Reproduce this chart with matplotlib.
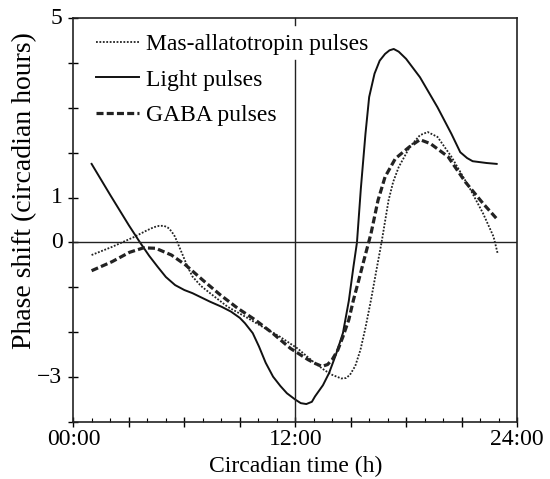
import matplotlib
matplotlib.use('Agg')
import matplotlib.pyplot as plt
from matplotlib.ticker import MultipleLocator

# --- data (hours, phase shift in circadian hours) ---
light_t = [0.98, 2.0, 3.0, 3.6, 4.1, 4.55, 5.0, 5.5, 6.0, 6.44, 7.39, 8.0, 8.52, 9.0, 9.28,
           9.7, 10.04, 10.4, 10.8, 11.2, 11.55, 12.0, 12.3, 12.6, 12.9, 13.07, 13.5,
           13.83, 14.2, 14.58, 14.9, 15.15, 15.34, 15.55, 15.8, 16.0, 16.29, 16.57,
           16.86, 17.1, 17.33, 17.6, 18.0, 18.75, 19.7, 20.45, 20.93, 21.3, 21.6, 22.35, 22.9]
light_y = [1.75, 1.05, 0.38, 0.0, -0.3, -0.54, -0.77, -0.95, -1.06, -1.13, -1.32, -1.43,
           -1.54, -1.68, -1.8, -2.02, -2.32, -2.68, -2.99, -3.2, -3.36, -3.5, -3.58, -3.6,
           -3.55, -3.43, -3.18, -2.91, -2.5, -2.02, -1.3, -0.54, 0.0, 1.2, 2.42, 3.24, 3.76,
           4.05, 4.2, 4.28, 4.31, 4.25, 4.09, 3.68, 3.01, 2.42, 2.01, 1.88, 1.81, 1.77, 1.75]

mas_t = [0.98, 2.08, 3.22, 3.98, 4.35, 4.64, 4.9, 5.11, 5.3, 5.49, 5.87, 6.15, 6.44, 6.9,
         7.39, 8.33, 9.28, 10.23, 11.17, 12.12, 13.07, 13.6, 14.0, 14.49, 14.75, 14.96,
         15.25, 15.53, 15.8, 16.1, 16.4, 16.67, 17.05, 17.3, 17.6, 18.2, 18.75, 19.17,
         19.7, 20.45, 21.4, 22.16, 22.73, 22.95]
mas_y = [-0.28, -0.10, 0.11, 0.27, 0.34, 0.37, 0.37, 0.33, 0.25, 0.13, -0.24, -0.52, -0.76,
         -0.97, -1.13, -1.43, -1.65, -1.88, -2.1, -2.36, -2.69, -2.85, -2.95, -3.03, -3.02,
         -2.95, -2.75, -2.39, -1.9, -1.28, -0.6, 0.0, 0.94, 1.35, 1.68, 2.13, 2.39, 2.46,
         2.35, 1.91, 1.24, 0.65, 0.13, -0.24]

gaba_t = [0.98, 2.08, 3.03, 3.79, 4.45, 5.3, 6.06, 7.0, 7.95, 8.9, 9.85, 10.8, 11.74,
          12.69, 13.1, 13.45, 13.75, 14.0, 14.3, 14.58, 14.9, 15.15, 15.45, 15.72, 16.1,
          16.48, 16.86, 17.42, 18.18, 18.75, 19.32, 20.27, 21.2, 22.16, 22.92]
gaba_y = [-0.63, -0.43, -0.22, -0.12, -0.13, -0.28, -0.5, -0.84, -1.17, -1.47, -1.73, -2.03,
          -2.36, -2.61, -2.7, -2.76, -2.72, -2.61, -2.4, -2.1, -1.72, -1.28, -0.82, -0.39,
          0.2, 0.94, 1.46, 1.87, 2.13, 2.29, 2.2, 1.91, 1.35, 0.87, 0.52]

x_ticks = [0, 12, 24]
x_labels = ['00:00', '12:00', '24:00']
y_ticks = [5, 1, 0, -3]
y_labels = ['5', '1', '0', '\u22123']

plt.rcParams['font.family'] = ['Liberation Serif', 'DejaVu Serif']
FS = 17
INK = '#222222'

fig = plt.figure(figsize=(5.5, 4.79), dpi=100)
ax = fig.add_axes([0.1336, 0.119, 0.8064, 0.8434])

ax.plot(mas_t, mas_y, color=INK, linestyle=(0, (1, 0.9)), linewidth=1.3,
        label='Mas-allatotropin pulses')
ax.plot(light_t, light_y, color='#111111', linestyle='-', linewidth=1.4,
        label='Light pulses')
ax.plot(gaba_t, gaba_y, color=INK, linestyle=(0, (2.2, 1.0)), linewidth=2.3,
        label='GABA pulses')

# reference lines
ax.axhline(0, color=INK, linewidth=1.0)
ax.plot([12, 12], [-4, 4.07], color=INK, linewidth=1.0)

ax.set_xlim(0, 24)
ax.set_ylim(-4, 5)

ax.xaxis.set_major_locator(MultipleLocator(3))
ax.xaxis.set_minor_locator(MultipleLocator(1))
ax.set_xticklabels([])
ax.yaxis.set_major_locator(MultipleLocator(1))
ax.set_yticklabels([])

ax.tick_params(axis='x', which='major', direction='inout', length=7, width=1.0, top=False)
ax.tick_params(axis='x', which='minor', direction='in', length=3, width=0.8, top=False)
ax.tick_params(axis='y', which='major', direction='inout', length=7, width=1.0, right=False)

# labels only at selected positions
for t, lab in zip(x_ticks, x_labels):
    ax.text(t, -4.39, lab, ha='center', va='center', fontsize=FS)
for v, lab in zip(y_ticks, y_labels):
    ax.text(-0.6, v, lab, ha='right', va='center', fontsize=FS)

# small tick on the top spine at 12:00
ax.plot([12, 12], [5, 4.85], color=INK, linewidth=1.0, clip_on=False)

for s in ax.spines.values():
    s.set_linewidth(1.2)
    s.set_color(INK)

fig.text(296 / 550, 1 - 466 / 479, 'Circadian time (h)', ha='center', va='center', fontsize=FS)
fig.text(25 / 550, 1 - 191 / 479, 'Phase shift (circadian hours)', ha='center', va='center',
         rotation=90, fontsize=20)

ax.legend(loc='upper left', frameon=False, fontsize=FS, handlelength=1.8,
          handletextpad=0.32, labelspacing=0.6, borderaxespad=0.0,
          bbox_to_anchor=(0.03, 0.985))

fig.savefig('out.png', dpi=100)
